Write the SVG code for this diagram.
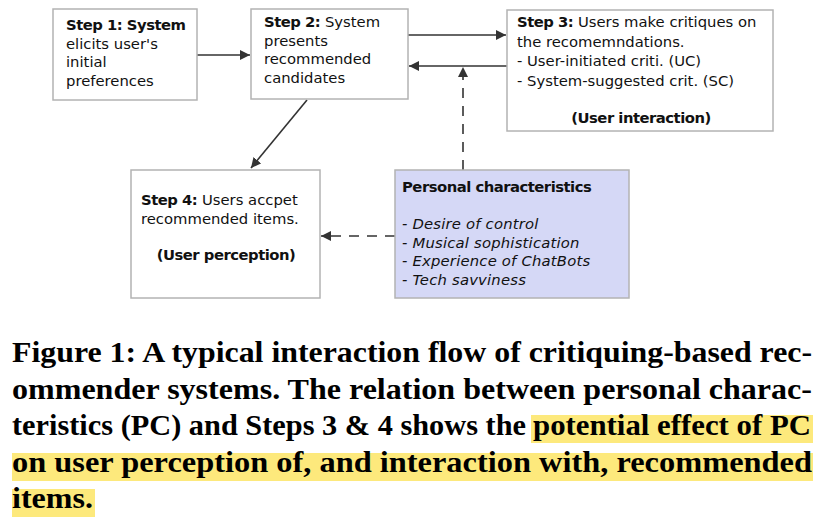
<svg xmlns="http://www.w3.org/2000/svg" width="827" height="524" viewBox="0 0 827 524">
<defs>
<style>
.box{fill:#fff;stroke:#b3b3b3;stroke-width:1.5}
.pc{fill:#d5d8f6;stroke:#b3b3b3;stroke-width:1.5}
.t{font-family:"DejaVu Sans",sans-serif;font-size:14.8px;fill:#111}
.b{font-weight:bold;letter-spacing:-0.5px}
.i{font-style:italic;letter-spacing:0.2px}
.ln{stroke:#333;stroke-width:1.6;fill:none}
.dash{stroke-dasharray:10 8}
.cap{font-family:"Liberation Serif",serif;font-weight:bold;font-size:30px;fill:#000}
.hl{fill:#fde97c}
</style>
<marker id="ah" viewBox="0 0 10 10" refX="10" refY="5" markerWidth="10" markerHeight="10" markerUnits="userSpaceOnUse" orient="auto">
<path d="M0,0 L10,5 L0,10 z" fill="#333"/>
</marker>
</defs>
<rect width="827" height="524" fill="#fff"/>
<g id="connectors">
<line class="ln" x1="197" y1="55" x2="250" y2="55" marker-end="url(#ah)"/>
<line class="ln" x1="408" y1="35" x2="506" y2="35" marker-end="url(#ah)"/>
<line class="ln" x1="507" y1="66" x2="409" y2="66" marker-end="url(#ah)"/>
<line class="ln" x1="307" y1="100" x2="251" y2="168" marker-end="url(#ah)"/>
<line class="ln dash" x1="463" y1="170" x2="463" y2="67" marker-end="url(#ah)"/>
<line class="ln dash" x1="395" y1="236" x2="321" y2="236" marker-end="url(#ah)"/>
</g>
<g id="step1">
<rect class="box" x="53" y="9" width="144" height="91"/>
<text class="t" x="66" y="30"><tspan class="b">Step 1: System</tspan><tspan x="66" dy="18.5">elicits user's</tspan><tspan x="66" dy="18.5">initial</tspan><tspan x="66" dy="18.5">preferences</tspan></text>
</g>
<g id="step2">
<rect class="box" x="251" y="9" width="157" height="90"/>
<text class="t" x="264" y="27"><tspan class="b">Step 2:</tspan> System<tspan x="264" dy="18.5">presents</tspan><tspan x="264" dy="18.5">recommended</tspan><tspan x="264" dy="18.5">candidates</tspan></text>
</g>
<g id="step3">
<rect class="box" x="507" y="10" width="266" height="121"/>
<text class="t" x="517" y="27"><tspan class="b">Step 3:</tspan> Users make critiques on<tspan x="517" dy="19.5">the recomemndations.</tspan><tspan x="517" dy="19.5">- User-initiated criti. (UC)</tspan><tspan x="517" dy="19.5">- System-suggested crit. (SC)</tspan></text>
<text class="t b" x="641" y="123" text-anchor="middle">(User interaction)</text>
</g>
<g id="step4">
<rect class="box" x="131" y="170" width="189" height="128"/>
<text class="t" x="141" y="205"><tspan class="b">Step 4:</tspan> Users accpet<tspan x="141" dy="18.5">recommended items.</tspan></text>
<text class="t b" x="226" y="260" text-anchor="middle">(User perception)</text>
</g>
<g id="pc">
<rect class="pc" x="395" y="170" width="234" height="128"/>
<text class="t b" x="402" y="192">Personal characteristics</text>
<text class="t i" x="402" y="229">- Desire of control<tspan x="402" dy="18.7">- Musical sophistication</tspan><tspan x="402" dy="18.7">- Experience of ChatBots</tspan><tspan x="402" dy="18.7">- Tech savviness</tspan></text>
</g>
<g id="caption">
<rect class="hl" x="531" y="415" width="282" height="28"/>
<rect class="hl" x="12" y="453" width="801" height="28"/>
<rect class="hl" x="12" y="489" width="83" height="28"/>
<text class="cap" x="12" y="362" textLength="800" lengthAdjust="spacingAndGlyphs">Figure 1: A typical interaction flow of critiquing-based rec-</text>
<text class="cap" x="12" y="398.5" textLength="800" lengthAdjust="spacingAndGlyphs">ommender systems. The relation between personal charac-</text>
<text class="cap" x="12" y="435" textLength="514" lengthAdjust="spacingAndGlyphs">teristics (PC) and Steps 3 &amp; 4 shows the</text>
<text class="cap" x="533" y="435" textLength="278" lengthAdjust="spacingAndGlyphs">potential effect of PC</text>
<text class="cap" x="12" y="471.5" textLength="800" lengthAdjust="spacingAndGlyphs">on user perception of, and interaction with, recommended</text>
<text class="cap" x="12" y="508" textLength="81" lengthAdjust="spacingAndGlyphs">items.</text>
</g>
</svg>
